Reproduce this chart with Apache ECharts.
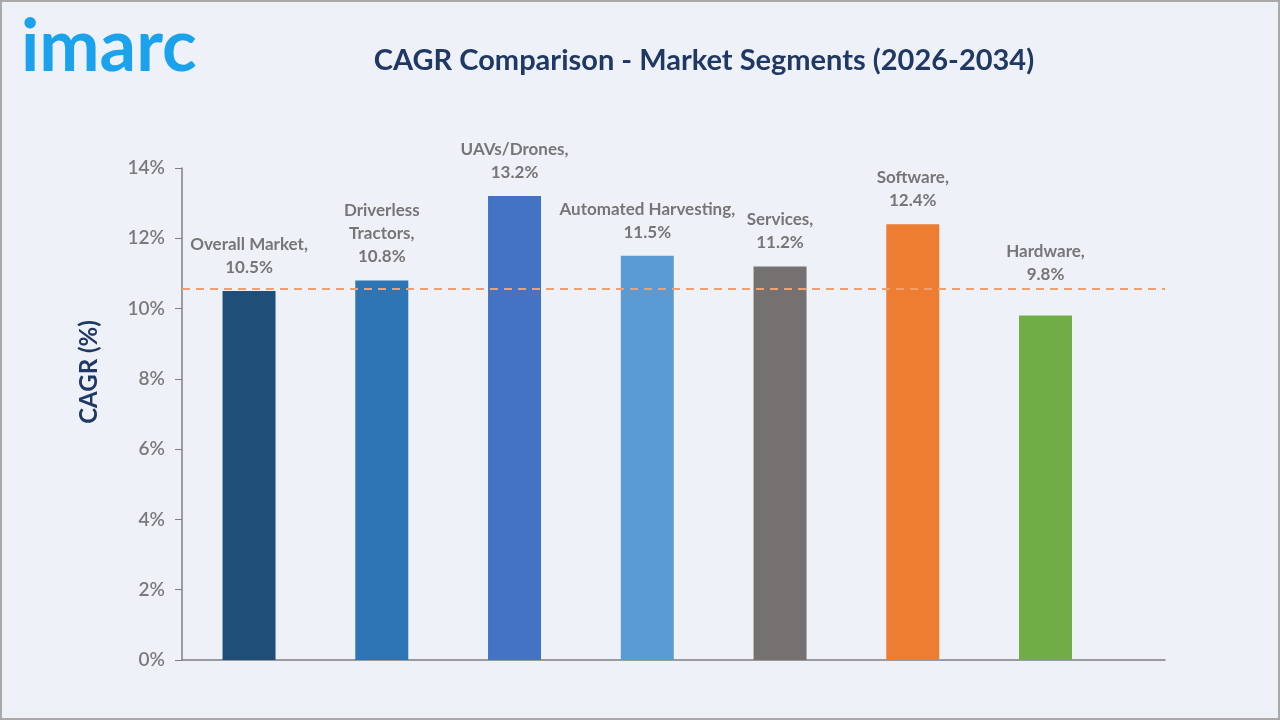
<!DOCTYPE html>
<html>
<head>
<meta charset="utf-8">
<script src="https://cdn.jsdelivr.net/npm/echarts@6/dist/echarts.min.js"></script>
<style>
  html, body { margin: 0; padding: 0; background: #eef2f8; }
  #chart { width: 1280px; height: 720px; box-sizing: border-box; border: 2px solid #a9a9a9; }
</style>
</head>
<body>
<div id="chart"></div>
<script>
// data
const segments = ['Overall Market', 'Driverless\nTractors', 'UAVs/Drones', 'Automated Harvesting', 'Services', 'Software', 'Hardware'];
const cagr = [10.5, 10.8, 13.2, 11.5, 11.2, 12.4, 9.8];
const barColors = ['#1F4E79', '#2E75B6', '#4472C4', '#5B9BD5', '#767171', '#ED7D31', '#70AD47'];
const overallLine = 10.55;
const yTicks = [0, 2, 4, 6, 8, 10, 12, 14];

const chart = echarts.init(document.getElementById('chart'));

const barData = cagr.map((v, i) => ({
  value: [i, v],
  itemStyle: { color: barColors[i] },
  label: { distance: i === 6 ? 30 : 12 }
}));

chart.setOption({
  backgroundColor: '#eef2f8',
  animation: false,
  textStyle: { fontFamily: 'Lato' },
  title: {
    text: 'CAGR Comparison - Market Segments (2026-2034)',
    left: 697, top: 39, textAlign: 'center',
    textStyle: { fontFamily: 'Lato', fontSize: 29, fontWeight: 'bold', color: '#203864' }
  },
  graphic: [{
    type: 'text', left: 19, top: 10,
    style: { text: 'imarc', fontFamily: 'Lato', fontWeight: 'bold', fontSize: 72, fill: '#1AA3EC' }
  }, {
    type: 'text', x: 87, y: 370, rotation: Math.PI / 2,
    style: {
      text: 'CAGR (%)', fontFamily: 'Lato', fontWeight: 'bold', fontSize: 24, fill: '#1F3864',
      align: 'center', verticalAlign: 'middle'
    }
  }],
  grid: { left: 180, right: 113, top: 166, bottom: 58 },
  xAxis: {
    type: 'value', min: -0.505, max: 6.9,
    axisLine: { show: true, onZero: false, lineStyle: { color: '#7f7f7f', width: 1.5 } },
    axisTick: { show: false }, axisLabel: { show: false }, splitLine: { show: false }
  },
  yAxis: {
    type: 'value', min: yTicks[0], max: yTicks[yTicks.length - 1], interval: 2,
    axisLine: { show: true, onZero: false, lineStyle: { color: '#7f7f7f', width: 1.5 } },
    axisTick: { show: true, length: 7, lineStyle: { color: '#7f7f7f' } },
    axisLabel: { formatter: '{value}%', fontSize: 19, fontWeight: 600, color: '#7a7a7a', margin: 17 },
    splitLine: { show: false }
  },
  series: [{
    type: 'bar',
    barWidth: 53,
    data: barData,
    label: {
      show: true, position: 'top',
      formatter: p => segments[p.dataIndex] + ',\n' + p.value[1].toFixed(1) + '%',
      fontFamily: 'Lato', fontSize: 17, fontWeight: 'bold', color: '#767676', lineHeight: 23
    },
    markLine: {
      silent: true, symbol: 'none', label: { show: false },
      lineStyle: { color: '#F0A070', type: [8, 6], width: 2 },
      data: [{ yAxis: overallLine }]
    }
  }]
});
</script>
</body>
</html>
